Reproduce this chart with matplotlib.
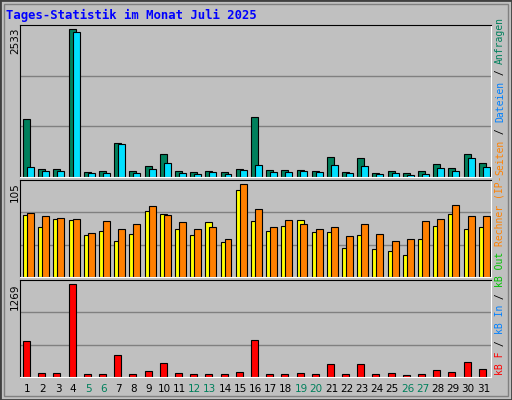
import matplotlib
matplotlib.use("Agg")
import matplotlib.pyplot as plt
from matplotlib.patches import Rectangle
import numpy as np

days = list(range(1, 32))
weekend = [5, 6, 12, 13, 19, 20, 26, 27]

# Anfragen (green) / Dateien (cyan)
anfragen = [994, 137, 137, 2533, 86, 103, 585, 103, 189, 396, 103, 86, 103, 86, 137, 1028,
            120, 120, 120, 103, 344, 86, 327, 69, 103, 69, 103, 224, 155, 396, 241]
dateien = [172, 103, 103, 2482, 69, 69, 568, 69, 137, 241, 69, 52, 86, 52, 120, 207,
           86, 86, 103, 86, 207, 69, 189, 52, 69, 34, 52, 155, 103, 327, 172]
# Besuche (yellow) / Rechner (orange)
besuche = [70, 57, 65, 64, 48, 52, 41, 49, 75, 71, 54, 47, 62, 39, 98, 63,
           52, 58, 64, 51, 51, 33, 48, 32, 29, 25, 43, 58, 71, 54, 56]
rechner = [72, 69, 67, 66, 50, 63, 54, 60, 80, 70, 62, 54, 57, 43, 105, 77,
           57, 64, 60, 54, 57, 46, 60, 49, 41, 43, 63, 65, 81, 69, 69]
# kB F (red)
kb_f = [491, 60, 60, 1269, 46, 46, 297, 46, 88, 185, 60, 46, 46, 46, 74, 505,
        46, 46, 60, 46, 171, 46, 171, 46, 60, 32, 46, 102, 74, 199, 116]

GREEN = "#00805C"
CYAN = "#00E0FF"
YELLOW = "#FFFF00"
ORANGE = "#FF8000"
RED = "#FF0000"
BG = "#C0C0C0"

fig = plt.figure(figsize=(5.12, 4), dpi=100, facecolor=BG)
W, H = 512, 400
fig.patches.append(Rectangle((0, 0), 1, 1, transform=fig.transFigure, fill=False,
                             edgecolor="#404040", linewidth=2))
fig.patches.append(Rectangle((4 / W, 4 / H), 1 - 8 / W, 1 - 8 / H, transform=fig.transFigure,
                             fill=False, edgecolor="#808080", linewidth=1))


def panel(top, bottom):
    ax = fig.add_axes([20 / W, 1 - bottom / H, 471 / W, (bottom - top) / H])
    ax.set_facecolor(BG)
    ax.set_xlim(0, 31)
    ax.set_xticks([])
    ax.set_yticks([])
    for s in ax.spines.values():
        s.set_color("black")
    ax.spines["bottom"].set_color("white")
    ax.spines["right"].set_color("white")
    return ax


x = np.arange(31)

ax1 = panel(25, 177)
ymax1 = 2533 * 453 / 441
ax1.set_ylim(0, ymax1)
for g in (ymax1 / 3, 2 * ymax1 / 3):
    ax1.axhline(g, color="#808080", linewidth=1, zorder=0)
ax1.bar(x + 0.2, anfragen, width=0.46, align="edge", color=GREEN, edgecolor="black", linewidth=0.8)
ax1.bar(x + 0.46, dateien, width=0.46, align="edge", color=CYAN, edgecolor="black", linewidth=0.8)

ax2 = panel(180, 277)
ymax2 = 105 * 288 / 276
ax2.set_ylim(0, ymax2)
for g in (ymax2 / 3, 2 * ymax2 / 3):
    ax2.axhline(g, color="#808080", linewidth=1, zorder=0)
ax2.bar(x + 0.2, besuche, width=0.46, align="edge", color=YELLOW, edgecolor="black", linewidth=0.8)
ax2.bar(x + 0.46, rechner, width=0.46, align="edge", color=ORANGE, edgecolor="black", linewidth=0.8)

ax3 = panel(280, 377)
ymax3 = 1269 * 286 / 274
ax3.set_ylim(0, ymax3)
for g in (ymax3 / 3, 2 * ymax3 / 3):
    ax3.axhline(g, color="#808080", linewidth=1, zorder=0)
ax3.bar(x + 0.2, kb_f, width=0.46, align="edge", color=RED, edgecolor="black", linewidth=0.8)

mono = "DejaVu Sans Mono"
fig.text(6 / W, 1 - 15 / H, "Tages-Statistik im Monat Juli 2025", color="#0000FF",
         fontsize=8.8, fontweight="bold", family=mono, va="center")

for label, ypx in (("2533", 28), ("105", 182), ("1269", 283)):
    fig.text(15 / W, 1 - ypx / H, label, rotation=90, fontsize=7.5, va="top", ha="center")

for d in days:
    col = GREEN if d in weekend else "black"
    fig.text((20 + (d - 0.5) * 471 / 31) / W, 1 - 389 / H, str(d), color=col,
             fontsize=7.5, ha="center", va="center")


def vlabel(parts, start_px, xpx=500, fs=7):
    adv = 0.602 * fs * 100 / 72
    y = start_px
    for txt, col in parts:
        fig.text(xpx / W, 1 - y / H, txt, rotation=90, color=col, fontsize=fs,
                 family=mono, ha="center", va="bottom")
        y -= adv * len(txt)


vlabel([("kB F", RED), (" / ", "black"), ("kB In", "#0080FF"), (" / ", "black"),
        ("kB Out", "#00C000"), (" ", "black"), ("Rechner (IP-", ORANGE)], 375)
vlabel([("Seiten", ORANGE), (" / ", "black"), ("Dateien", "#0080FF"), (" / ", "black"),
        ("Anfragen", GREEN)], 175)

fig.savefig("out.png", dpi=100, facecolor=BG)
